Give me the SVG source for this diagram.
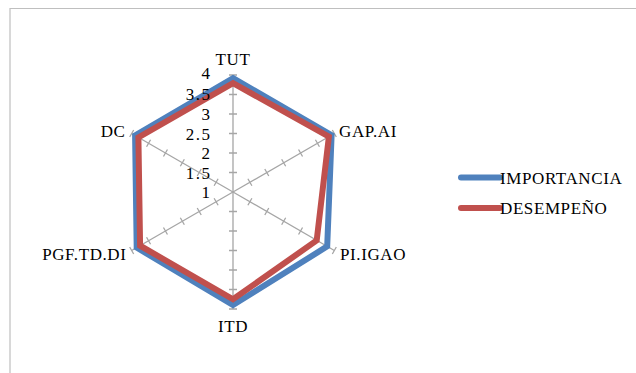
<svg xmlns="http://www.w3.org/2000/svg" xmlns:xlink="http://www.w3.org/1999/xlink" width="636" height="373" viewBox="0 0 636 373">
<style>
text{font-family:"Liberation Serif","Times New Roman",serif;font-size:17px;letter-spacing:0.6px;fill:#000}
.ax{fill:none;stroke:#A6A6A6;stroke-width:1.3}
.frame{fill:none;stroke:#BFBFBF;stroke-width:1.2}
.imp{fill:none;stroke:#4F81BD;stroke-width:6;stroke-linejoin:miter}
.des{fill:none;stroke:#C0504D;stroke-width:6;stroke-linejoin:miter}
.tk{text-anchor:end;letter-spacing:1.5px}
</style>
<defs>
<path id="axis" d="M233,192V75M229,172.5H237M229,153H237M229,133.5H237M229,114H237M229,94.5H237M229,75H237"/>
</defs>
<rect width="636" height="373" fill="#fff"/>
<path class="frame" d="M10,373V8.5H636"/>
<g id="axes" class="ax">
<use xlink:href="#axis"/>
<use xlink:href="#axis" transform="rotate(60 233 192)"/>
<use xlink:href="#axis" transform="rotate(120 233 192)"/>
<use xlink:href="#axis" transform="rotate(180 233 192)"/>
<use xlink:href="#axis" transform="rotate(240 233 192)"/>
<use xlink:href="#axis" transform="rotate(300 233 192)"/>
</g>
<g id="series">
<polygon id="importancia" class="imp" points="233,78.1 331.6,135.1 327.2,246.4 233,305.1 136.7,247.6 135.1,135.5"/>
<polygon id="desempeno" class="des" points="233,83.2 328.9,136.6 316.7,240.4 233,299.3 140.1,245.7 138.4,137.4"/>
</g>
<g id="scale">
<text class="tk" x="211.5" y="78.5">4</text>
<text class="tk" x="211.5" y="100">3.5</text>
<text class="tk" x="211.5" y="120">3</text>
<text class="tk" x="211.5" y="139.5">2.5</text>
<text class="tk" x="211.5" y="159">2</text>
<text class="tk" x="211.5" y="178.5">1.5</text>
<text class="tk" x="211.5" y="198">1</text>
</g>
<g id="n-tut"><text x="233" y="65" text-anchor="middle">TUT</text></g>
<g id="n-gapai"><text x="339" y="136.5">GAP.AI</text></g>
<g id="n-piigao"><text x="340" y="260">PI.IGAO</text></g>
<g id="n-itd"><text x="233" y="332" text-anchor="middle">ITD</text></g>
<g id="n-pgf"><text x="126.5" y="260" text-anchor="end">PGF.TD.DI</text></g>
<g id="n-dc"><text x="125.5" y="136.5" text-anchor="end">DC</text></g>
<g id="legend">
<line x1="461" y1="177.5" x2="500" y2="177.5" stroke="#4F81BD" stroke-width="6" stroke-linecap="round"/>
<text x="500" y="183.5">IMPORTANCIA</text>
<line x1="461" y1="208" x2="500" y2="208" stroke="#C0504D" stroke-width="6" stroke-linecap="round"/>
<text x="500" y="214">DESEMPEÑO</text>
</g>
</svg>
